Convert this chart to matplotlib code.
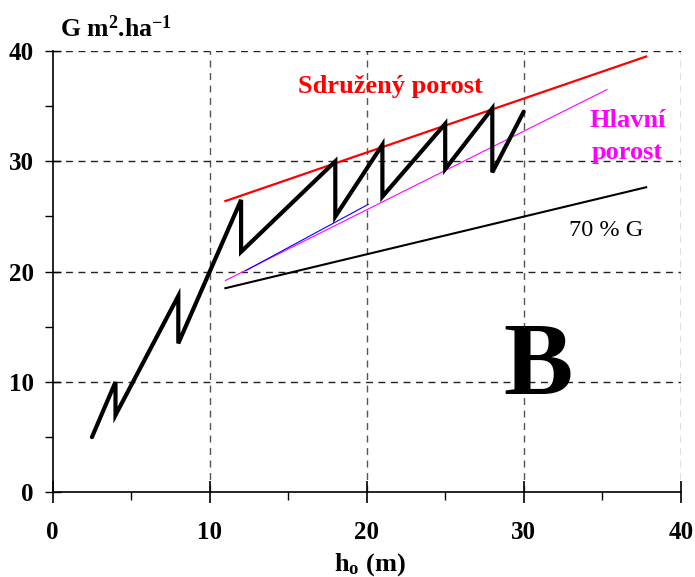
import matplotlib
matplotlib.use("Agg")
import matplotlib.pyplot as plt
from matplotlib.ticker import MultipleLocator

plt.rcParams['font.family'] = ['Liberation Serif', 'DejaVu Serif']
plt.rcParams['mathtext.fontset'] = 'custom'
plt.rcParams['mathtext.rm'] = 'Liberation Serif'
plt.rcParams['mathtext.bf'] = 'Liberation Serif:bold'
plt.rcParams['mathtext.it'] = 'Liberation Serif:italic'

# Data
zig_x = [2.5, 4, 4, 8, 8, 12, 12, 18, 18, 21, 21, 25, 25, 28, 28, 30]
zig_y = [5.0, 10.0, 7.0, 17.8, 13.5, 26.5, 21.8, 30.0, 25.0, 31.5, 26.8, 33.4, 29.3, 34.8, 29.0, 34.5]
sdruzeny_x = [11, 37.8]
sdruzeny_y = [26.4, 39.5]
hlavni_x = [11, 35.3]
hlavni_y = [19.2, 36.5]
blue_x = [12.3, 20.1]
blue_y = [20.1, 26.1]
g70_x = [11, 37.8]
g70_y = [18.5, 27.65]
xticks = [0, 10, 20, 30, 40]
yticks = [0, 10, 20, 30, 40]

fig = plt.figure(figsize=(6.95, 5.77), dpi=100)
ax = fig.add_axes([52.7/695, 1-492.3/577, (680.7-52.7)/695, (492.3-51)/577])
ax.set_xlim(0, 40)
ax.set_ylim(0, 40)

# grid
for gx in [10, 20, 30, 40]:
    ax.axvline(gx, color='#555555', lw=1.0, ls=(0, (5, 4)), zorder=1)
for gy in [10, 20, 30, 40]:
    ax.axhline(gy, color='#222222', lw=1.0, ls=(0, (5, 4)), zorder=1)

ax.plot(sdruzeny_x, sdruzeny_y, color='#ff0000', lw=1.6, zorder=3)
ax.plot(hlavni_x, hlavni_y, color='#ff00ff', lw=0.8, zorder=3)
ax.plot(blue_x, blue_y, color='#0000ff', lw=0.8, zorder=3)
ax.plot(g70_x, g70_y, color='black', lw=1.5, zorder=3)
ax.plot(zig_x, zig_y, color='black', lw=3.0, solid_joinstyle='miter', solid_capstyle='round', zorder=4)

for s in ['top', 'right']:
    ax.spines[s].set_visible(False)
for s in ['left', 'bottom']:
    ax.spines[s].set_linewidth(1.2)

ax.set_xticks(xticks)
ax.set_yticks(yticks)
ax.xaxis.set_minor_locator(MultipleLocator(5))
ax.yaxis.set_minor_locator(MultipleLocator(5))
ax.tick_params(axis='x', which='major', direction='inout', length=16, width=1.2, pad=13, labelsize=18)
ax.tick_params(axis='y', which='major', direction='inout', length=11, width=1.0, pad=8, labelsize=18)
ax.tick_params(axis='x', which='minor', direction='out', length=6, width=1.0)
ax.tick_params(axis='y', which='minor', direction='out', length=6, width=1.0)
for lab in ax.get_xticklabels() + ax.get_yticklabels():
    lab.set_fontweight('bold')

fig.text(60/695, 1-37/577, r"G m$^{\mathbf{2}}$.ha$^{\mathbf{-1}}$", fontsize=18.5, fontweight='bold',
         ha='left', va='baseline')
fig.text(370/695, 1-571/577, r"h$_{\mathbf{o}}$ (m)", fontsize=19, fontweight='bold', ha='center', va='baseline')

ax.text(21.5, 36.2, "Sdružený porost", color='#ff0000', fontsize=19, fontweight='bold', ha='center', va='baseline')
ax.text(36.6, 33.1, "Hlavní", color='#ff00ff', fontsize=19, fontweight='bold', ha='center', va='baseline')
ax.text(36.6, 30.2, "porost", color='#ff00ff', fontsize=19, fontweight='bold', ha='center', va='baseline')
ax.text(35.25, 23.2, "70 % G", color='black', fontsize=17.5, ha='center', va='baseline')
ax.text(30.9, 8.9, "B", color='black', fontsize=75, fontweight='bold', ha='center', va='baseline')

fig.savefig("out.png", dpi=100)
